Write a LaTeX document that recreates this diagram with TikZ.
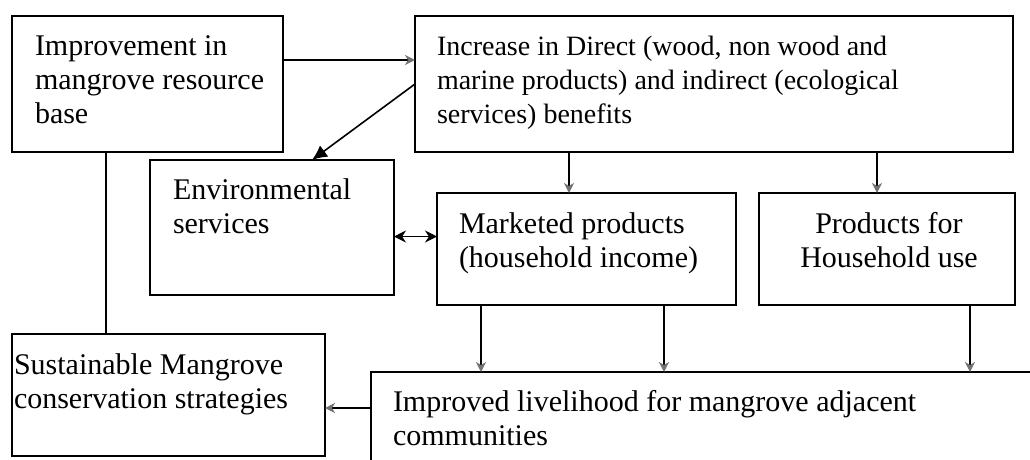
\documentclass[tikz,border=0pt]{standalone}
\usepackage{fontspec}
\setmainfont{Liberation Serif}
\usetikzlibrary{arrows.meta}
\tikzset{
  box/.style={draw, rectangle, line width=1.8pt, inner sep=0pt, outer sep=0pt},
  lbl/.style={anchor=north west, inner sep=0pt, outer sep=0pt, align=left},
  conn/.style={line width=1.6pt},
  arr/.style={conn, -{Stealth[length=10pt,width=10pt,inset=3pt,color=black!55]}},
  bigarr/.style={conn, -{Latex[length=15pt,width=14pt]}},
  dblarr/.style={conn, {Stealth[length=12pt,width=12pt]}-{Stealth[length=12pt,width=12pt]}},
}
\newcommand{\fA}{\fontsize{30}{34}\selectfont}
\newcommand{\fB}{\fontsize{28}{34}\selectfont}
\begin{document}
\begin{tikzpicture}[x=1pt,y=-1pt]
\useasboundingbox (0,0) rectangle (1030,459);
\clip (0,0) rectangle (1030,459);
\fill[white] (0,0) rectangle (1030,459);

% boxes
\node[box, minimum width=271pt, minimum height=136pt] (A) at (147.5,84) {};
\node[box, minimum width=598pt, minimum height=136pt] (B) at (714,84) {};
\node[box, minimum width=244pt, minimum height=135pt] (Env) at (272,227.5) {};
\node[box, minimum width=299pt, minimum height=112pt] (Mk) at (586.5,249) {};
\node[box, minimum width=256pt, minimum height=112pt] (Pr) at (887,249) {};
\node[box, minimum width=313pt, minimum height=122pt] (Su) at (168.5,395) {};
\node[box, minimum width=674pt, minimum height=108pt] (Im) at (708,426) {};

% texts
\node[lbl, font=\fA] (tA) at (35,31.2) {\strut Improvement in\\mangrove resource\\base};
\node[lbl, font=\fB] (tB) at (437,31.2) {\strut Increase in Direct (wood, non wood and\\marine products) and indirect (ecological\\services) benefits};
\node[lbl, font=\fA] (tEnv) at (173,175.2) {\strut Environmental\\services};
\node[lbl, font=\fA] (tMk) at (459,209.2) {\strut Marketed products\\(household income)};
\node[anchor=north, inner sep=0pt, align=center, font=\fA] (tPr) at (889,209.2) {\strut Products for\\Household use};
\node[lbl, font=\fA] (tSu) at (14,350.2) {\strut Sustainable Mangrove\\conservation strategies};
\node[lbl, font=\fA] (tIm) at (393,387.2) {\strut Improved livelihood for mangrove adjacent\\communities};

% connectors
\draw[arr] ([yshift=24pt]A.east) -- ([yshift=24pt]B.west);
\draw[bigarr] (B.west) -- ([xshift=40pt]Env.north);
\draw[conn] ([xshift=-41.5pt]A.south) -- ([xshift=-41.5pt]A.south |- Su.north);
\draw[arr] ([xshift=-145pt]B.south) -- ([xshift=-145pt]B.south |- Mk.north);
\draw[arr] ([xshift=163pt]B.south) -- ([xshift=163pt]B.south |- Pr.north);
\draw[dblarr] ([yshift=-9pt]Env.east) -- ([yshift=-9pt]Env.east -| Mk.west);
\draw[arr] ([xshift=-105.5pt]Mk.south) -- ([xshift=-105.5pt]Mk.south |- Im.north);
\draw[arr] ([xshift=77.5pt]Mk.south) -- ([xshift=77.5pt]Mk.south |- Im.north);
\draw[arr] ([xshift=83pt]Pr.south) -- ([xshift=83pt]Pr.south |- Im.north);
\draw[arr] ([yshift=18pt]Im.west) -- ([yshift=18pt]Im.west -| Su.east);
\end{tikzpicture}
\end{document}
